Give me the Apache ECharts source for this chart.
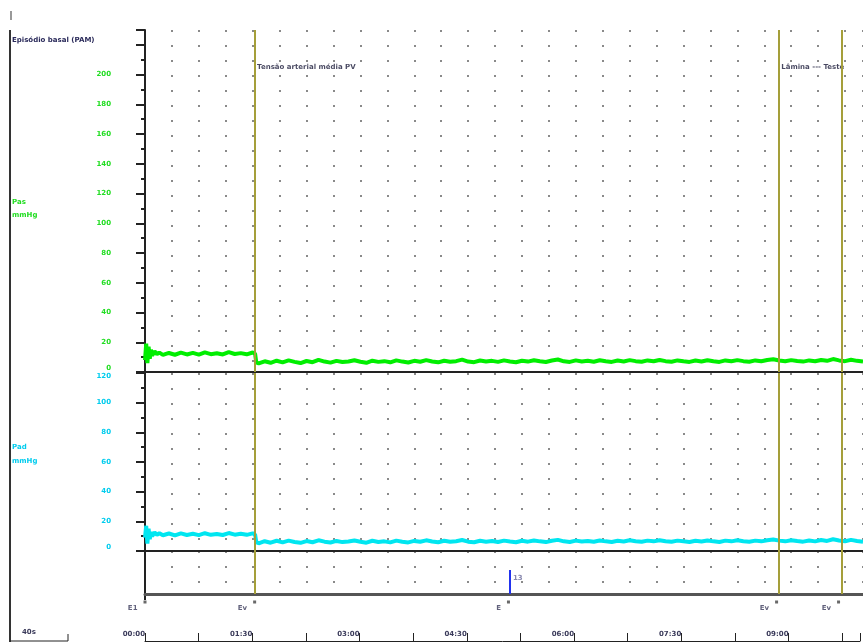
<!DOCTYPE html>
<html><head><meta charset="utf-8">
<script src="https://cdn.jsdelivr.net/npm/echarts@6/dist/echarts.min.js"></script>
<style>html,body{margin:0;padding:0;background:#fff}#c{width:863px;height:642px}</style>
</head><body><div id="c"></div>
<script>
// sample times (s)
const times = [0,1,2,3,4,5,6,8,10,12,15,20,25,30,35,40,45,50,55,60,65,70,75,80,85,90,92,93,95,
100,105,110,115,120,125,130,135,140,145,150,155,160,165,170,175,180,185,190,195,
200,205,210,215,220,225,230,235,240,245,250,255,260,265,270,275,280,285,290,295,
300,305,310,315,320,325,330,335,340,345,350,355,360,365,370,375,380,385,390,395,
400,405,410,415,420,425,430,435,440,445,450,455,460,465,470,475,480,485,490,495,
500,505,510,515,520,525,530,535,540,545,550,555,560,565,570,575,580,585,590,595,600];
const pasValues = [8,19,6,17,9,15,11,14,12,13,11.5,12.8,11.6,13.0,11.8,12.9,11.7,13.2,12.0,12.6,11.8,13.4,12.1,12.7,11.9,13.1,12.2,6.5,5.8,
7.2,6.2,7.6,6.5,7.8,6.8,6.0,7.4,6.6,8.2,7.0,6.3,7.5,6.7,7.1,7.9,6.9,6.2,7.6,6.8,
7.3,6.5,7.8,7.0,6.4,7.5,6.9,8.0,7.1,6.5,7.6,6.9,7.3,8.3,7.0,6.6,7.7,7.0,7.5,6.8,
7.8,7.1,6.6,7.6,7.0,7.9,7.2,6.7,7.7,8.4,7.2,6.8,7.8,7.1,7.5,6.9,7.9,7.2,6.8,7.7,
7.1,8.0,7.3,6.9,7.8,7.2,8.1,7.3,6.9,7.8,7.2,6.8,7.7,7.1,7.9,7.2,6.8,7.8,7.2,8.0,
7.3,6.9,7.8,7.2,8.1,8.6,7.7,7.2,8.0,7.4,7.0,7.8,7.2,8.1,7.5,8.7,7.8,7.3,8.2,7.5,7.0];
const padValues = [9,17,5,15,8,13,10,12.5,11,12,10.6,11.8,10.5,11.9,10.8,11.6,10.7,12.0,10.9,11.5,10.8,12.1,11.0,11.6,10.9,11.9,11.0,6.0,5.2,
6.6,5.6,6.9,5.8,7.0,6.1,5.5,6.7,5.9,7.2,6.3,5.7,6.8,6.0,6.4,7.1,6.2,5.6,6.9,6.1,
6.5,5.8,7.0,6.3,5.8,6.8,6.2,7.2,6.4,5.9,6.9,6.2,6.6,7.4,6.3,5.9,6.9,6.3,6.8,6.1,
7.0,6.4,5.9,6.9,6.3,7.1,6.5,6.0,6.9,7.5,6.5,6.1,7.0,6.4,6.8,6.2,7.1,6.5,6.1,6.9,
6.4,7.2,6.6,6.2,7.0,6.5,7.3,6.6,6.2,7.0,6.5,6.1,6.9,6.4,7.1,6.5,6.1,7.0,6.5,7.2,
6.6,6.2,7.0,6.5,7.3,7.8,7.0,6.5,7.3,6.7,6.3,7.1,6.5,7.4,6.8,7.9,7.1,6.6,7.5,6.8,6.3];
const timeTickLabels = ['00:00','01:30','03:00','04:30','06:00','07:30','09:00'];
const eventTimes = [0,92,305,530,582];
const eventLabels = ['E1','Ev','E','Ev','Ev'];
const eventLineTimes = [92,530,582];
const blueMarkerTimes = [305];
const blueMarkerLabels = ['13'];
const noteTimes = [92,530];
const noteTexts = ['Tensão arterial média PV','Lâmina --- Teste'];

const FONT = 'DejaVu Sans';
const OLIVE = '#a59f3a';
const GREEN = '#00ee00';
const CYAN = '#00e6f0';
const pasData = times.map((t,i)=>[t,pasValues[i]]);
const padData = times.map((t,i)=>[t,padValues[i]]);

const oliveLines = {
  silent:true, symbol:'none', animation:false,
  label:{show:false},
  lineStyle:{color:OLIVE,width:2,type:'solid'},
  emphasis:{disabled:true},
  data: eventLineTimes.map(t=>({xAxis:t}))
};

function panelX(gi, lineColor, lineWidth){
  return {
    gridIndex:gi, type:'value', min:0, max:600, interval:22.5,
    axisLine:{show:true, onZero:false, lineStyle:{color:lineColor,width:lineWidth}},
    axisTick:{show:false}, axisLabel:{show:false},
    splitLine:{show:true, lineStyle:{color:'#8a8a8a', width:2, type:[2,13]}}
  };
}
function panelY(gi, max, color, topLabel){
  return {
    gridIndex:gi, type:'value', min:0, max:max, interval:20,
    axisLine:{show:true, lineStyle:{color:'#222',width:2}},
    axisTick:{show:true, length:9, lineStyle:{color:'#222',width:2}},
    minorTick:{show:true, splitNumber:2, length:4, lineStyle:{color:'#222',width:2}},
    splitLine:{show:false},
    axisLabel:{show:true, margin:34, fontSize:7, fontFamily:FONT, fontWeight:'bold', color:color,
      formatter:v=> (v<=topLabel && v%20===0) ? String(v) : '',
      verticalAlignMinLabel:'bottom', verticalAlignMaxLabel:'top'}
  };
}

const option = {
  animation:false,
  backgroundColor:'#fff',
  grid:[
    {left:145, right:0, top:30, height:342},
    {left:145, right:0, top:373, height:178},
    {left:145, right:0, top:551, height:43},
    {left:145, right:0, top:600, height:41}
  ],
  xAxis:[
    panelX(0,'#222',2),
    panelX(1,'#222',2),
    panelX(2,'#555',3),
    {gridIndex:3, type:'value', min:0, max:600, interval:90,
     axisLine:{show:true, onZero:false, lineStyle:{color:'#222',width:1}},
     axisTick:{show:true, inside:true, length:8, lineStyle:{color:'#222',width:1}},
     minorTick:{show:true, splitNumber:2, length:8, lineStyle:{color:'#222',width:1}},
     splitLine:{show:false},
     axisLabel:{show:true, inside:true, margin:3, fontSize:7, fontFamily:FONT, fontWeight:'bold', color:'#3a3a5a', align:'right',
       formatter:v=>{const k=Math.round(v/90); return (Math.abs(v-k*90)<1e-6 && k<timeTickLabels.length)?timeTickLabels[k]:'';}}}
  ],
  yAxis:[
    panelY(0,230,'#22dd22',200),
    panelY(1,120,'#00ccee',120),
    {gridIndex:2, type:'value', min:0, max:43, axisLine:{show:true,lineStyle:{color:'#222',width:2}},
     axisTick:{show:false}, axisLabel:{show:false}, splitLine:{show:false}},
    {gridIndex:3, type:'value', min:0, max:41, show:false}
  ],
  series:[
    {type:'line', xAxisIndex:0, yAxisIndex:0, data:pasData, showSymbol:false, silent:true,
     lineStyle:{color:GREEN,width:4}, z:3, markLine:oliveLines},
    {type:'scatter', xAxisIndex:0, yAxisIndex:0, symbolSize:0, silent:true,
     data:noteTimes.map((t,i)=>({value:[t,205], label:{formatter:noteTexts[i]}})),
     label:{show:true, position:'right', distance:2, fontSize:7, fontFamily:FONT, fontWeight:'bold', color:'#1a1a3a'}},
    {type:'line', xAxisIndex:1, yAxisIndex:1, data:padData, showSymbol:false, silent:true,
     lineStyle:{color:CYAN,width:4}, z:3, markLine:oliveLines},
    {type:'scatter', xAxisIndex:2, yAxisIndex:2, symbolSize:0, silent:true,
     data:blueMarkerTimes.map((t,i)=>({value:[t,16], label:{formatter:blueMarkerLabels[i]}})),
     label:{show:true, position:'right', distance:3, fontSize:7, fontFamily:FONT, fontWeight:'bold', color:'#6a6a9a'},
     markLine:{silent:true, symbol:'none', animation:false, label:{show:false},
       data: eventLineTimes.map(t=>({xAxis:t, lineStyle:{color:OLIVE,width:2,type:'solid'}}))
         .concat(blueMarkerTimes.map(t=>[{coord:[t,0], lineStyle:{color:'#2233ee',width:2,type:'solid'}},{coord:[t,24]}]))}},
    {type:'scatter', xAxisIndex:3, yAxisIndex:3, symbol:'rect', symbolSize:3, silent:true,
     itemStyle:{color:'#444'},
     data:eventTimes.map((t,i)=>({value:[t,39], label:{formatter:eventLabels[i]}})),
     label:{show:true, position:'left', distance:6, offset:[0,6], fontSize:7, fontFamily:FONT, fontWeight:'bold', color:'#3a3a5a'}}
  ],
  graphic:[
    {type:'line', shape:{x1:10,y1:30,x2:10,y2:642}, style:{stroke:'#333',lineWidth:2}, silent:true},
    {type:'line', shape:{x1:11,y1:11,x2:11,y2:20}, style:{stroke:'#999',lineWidth:2}, silent:true},
    {type:'line', shape:{x1:145,y1:594,x2:145,y2:600}, style:{stroke:'#222',lineWidth:2}, silent:true},
    {type:'text', left:12, top:37, style:{text:'Episódio basal (PAM)', font:'bold 7px "DejaVu Sans"', fill:'#2a2a5a'}},
    {type:'text', left:12, top:199, style:{text:'Pas', font:'bold 7px "DejaVu Sans"', fill:'#22dd22'}},
    {type:'text', left:12, top:212, style:{text:'mmHg', font:'bold 7px "DejaVu Sans"', fill:'#22dd22'}},
    {type:'text', left:12, top:444, style:{text:'Pad', font:'bold 7px "DejaVu Sans"', fill:'#00ccee'}},
    {type:'text', left:12, top:458, style:{text:'mmHg', font:'bold 7px "DejaVu Sans"', fill:'#00ccee'}},
    {type:'line', shape:{x1:10,y1:641,x2:68,y2:641}, style:{stroke:'#222',lineWidth:1}, silent:true},
    {type:'line', shape:{x1:68,y1:641,x2:68,y2:634}, style:{stroke:'#222',lineWidth:1}, silent:true},
    {type:'text', left:22, top:629, style:{text:'40s', font:'bold 7px "DejaVu Sans"', fill:'#3a3a5a'}}
  ]
};
const chart = echarts.init(document.getElementById('c'), null, {renderer:'canvas'});
chart.setOption(option);
</script></body></html>
